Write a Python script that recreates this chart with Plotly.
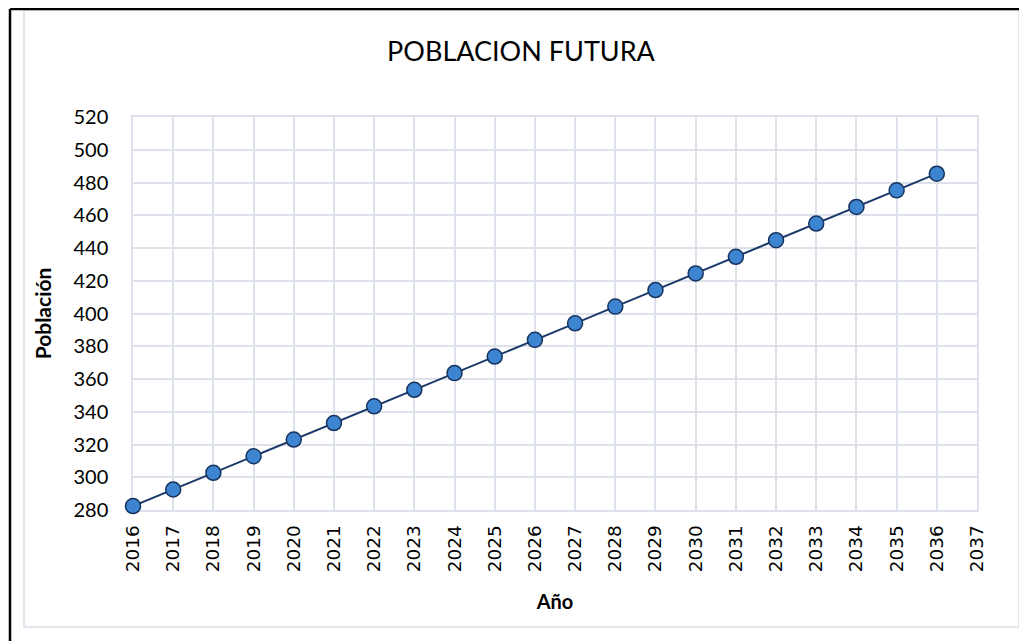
import plotly.graph_objects as go

years = [2016, 2017, 2018, 2019, 2020, 2021, 2022, 2023, 2024, 2025, 2026,
         2027, 2028, 2029, 2030, 2031, 2032, 2033, 2034, 2035, 2036]
poblacion = [282.4, 292.5, 302.7, 312.8, 323.0, 333.1, 343.3, 353.4, 363.6, 373.7, 383.9,
             394.0, 404.2, 414.3, 424.5, 434.6, 444.8, 454.9, 465.1, 475.2, 485.4]

x_ticks = list(range(2016, 2038))
y_ticks = list(range(280, 521, 20))

# page is offset by the 8px body margin
OFF = 8
W, H = 1027 - OFF, 641 - OFF
PL, PR, PT, PB = 133, 977, 117, 510  # plot area in page pixels
L, T = PL - OFF, PT - OFF
R = W - (PR - OFF)
B = H - (PB - OFF)
pw, ph = PR - PL, PB - PT

def px(x):
    return (x - PL) / pw

def py(y):
    return (PB - y) / ph

grid = "#dde1ea"
font = "Lato, Carlito, 'Open Sans', sans-serif"

fig = go.Figure()
fig.add_trace(go.Scatter(
    x=years, y=poblacion, mode="lines+markers",
    line=dict(color="#1b3a6b", width=2),
    marker=dict(size=15, color="#3d85d0", line=dict(color="#16325e", width=1.5)),
    cliponaxis=False, showlegend=False,
))

shapes = [
    dict(type="rect", xref="paper", yref="paper", x0=px(24), x1=px(1019), y0=py(627), y1=py(10),
         line=dict(color="#e3e6ec", width=2), layer="below"),
    dict(type="line", xref="paper", yref="paper", x0=px(10), x1=px(10), y0=py(641), y1=py(9),
         line=dict(color="black", width=2.5)),
    dict(type="line", xref="paper", yref="paper", x0=px(10), x1=px(1027), y0=py(9), y1=py(9),
         line=dict(color="black", width=2.5)),
]

fig.update_layout(
    width=W, height=H,
    margin=dict(l=L, r=R, t=T, b=B, autoexpand=False),
    paper_bgcolor="white", plot_bgcolor="white",
    font=dict(family=font, color="black", size=18),
    title=dict(text="POBLACION FUTURA", x=(521 - OFF) / W, xanchor="center",
               y=1 - (52 - OFF) / H, yanchor="middle",
               font=dict(family=font, size=27, color="black")),
    xaxis=dict(range=[2016, 2037], tickvals=x_ticks, ticktext=[str(v) for v in x_ticks],
               tickangle=-90, showgrid=True, gridcolor=grid, gridwidth=1.5,
               showline=True, linecolor=grid, linewidth=1.5, mirror=True,
               zeroline=False, ticks="", ticklabelstandoff=6, layer="below traces",
               tickfont=dict(size=18.5, family="'DejaVu Sans', sans-serif"),
               title=dict(text="<b>Año</b>", font=dict(size=20, family=font), standoff=24)),
    yaxis=dict(range=[280, 520], tickvals=y_ticks, showgrid=True, gridcolor=grid, gridwidth=1.5,
               showline=True, linecolor=grid, linewidth=1.5, mirror=True,
               zeroline=False, ticks="", ticklabelstandoff=19, layer="below traces",
               tickfont=dict(size=20, family=font),
               title=dict(text="<b>Población</b>", font=dict(size=21, family=font), standoff=16)),
    shapes=shapes,
)

fig.write_html("out.html")
